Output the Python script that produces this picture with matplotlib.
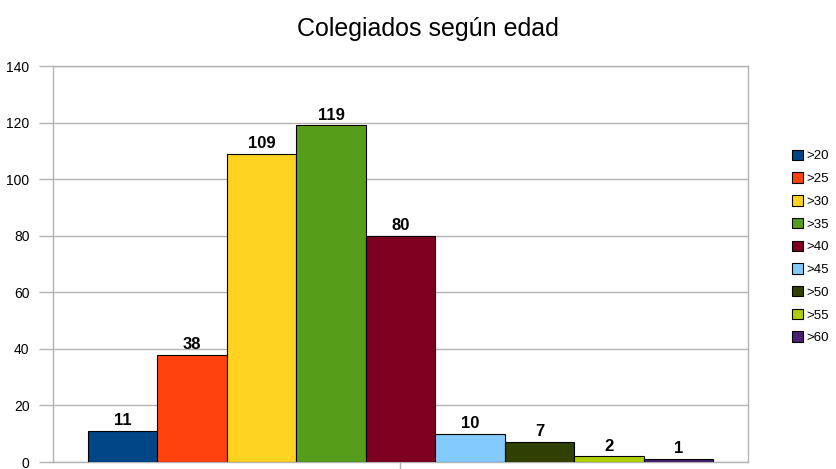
import matplotlib
matplotlib.use("Agg")
import matplotlib.pyplot as plt

plt.rcParams["font.family"] = ["Liberation Sans", "DejaVu Sans"]

# data
labels = [">20", ">25", ">30", ">35", ">40", ">45", ">50", ">55", ">60"]
counts = [11, 38, 109, 119, 80, 10, 7, 2, 1]
colors = ["#004586", "#ff420e", "#ffd320", "#579d1c", "#7e0021",
          "#83caff", "#314004", "#aecf00", "#4b1f6f"]
yticks = [0, 20, 40, 60, 80, 100, 120, 140]
title = "Colegiados según edad"

W, H = 837, 469
fig = plt.figure(figsize=(W / 100, H / 100), dpi=100)
ax = fig.add_axes([53 / W, 7 / H, (748 - 53) / W, (462 - 66) / H])

grid_c = "#b3b3b3"
xs = list(range(len(counts)))
bars = ax.bar(xs, counts, width=1.0, color=colors, edgecolor="black",
              linewidth=0.8, zorder=3)
for x, v in zip(xs, counts):
    ax.annotate(str(v), (x, v), xytext=(0, 2), textcoords="offset points",
                ha="center", va="bottom", fontsize=12, fontweight="bold",
                zorder=4)

ax.set_xlim(-1.0, len(counts))
ax.set_ylim(0, 140)
ax.set_yticks(yticks)
ax.set_xticks([(len(counts) - 1) / 2])
ax.set_xticklabels([""])
ax.yaxis.grid(True, color=grid_c, linewidth=1, zorder=0)
ax.set_axisbelow(True)
for s in ax.spines.values():
    s.set_color(grid_c)
    s.set_linewidth(1)
ax.tick_params(axis="y", length=10, width=1, color=grid_c, labelsize=10,
               pad=7)
ax.tick_params(axis="x", length=7, width=1, color=grid_c)

fig.text(428 / W, 1 - 29 / H, title, ha="center", va="center", fontsize=18)

fig.legend(bars, labels, loc="upper left",
           bbox_to_anchor=(785 / W, 1 - 143 / H), frameon=False,
           fontsize=9.5, handlelength=0.85, handleheight=0.85,
           handletextpad=0.3, labelspacing=0.75, borderpad=0)

fig.savefig("out.png", dpi=100)
